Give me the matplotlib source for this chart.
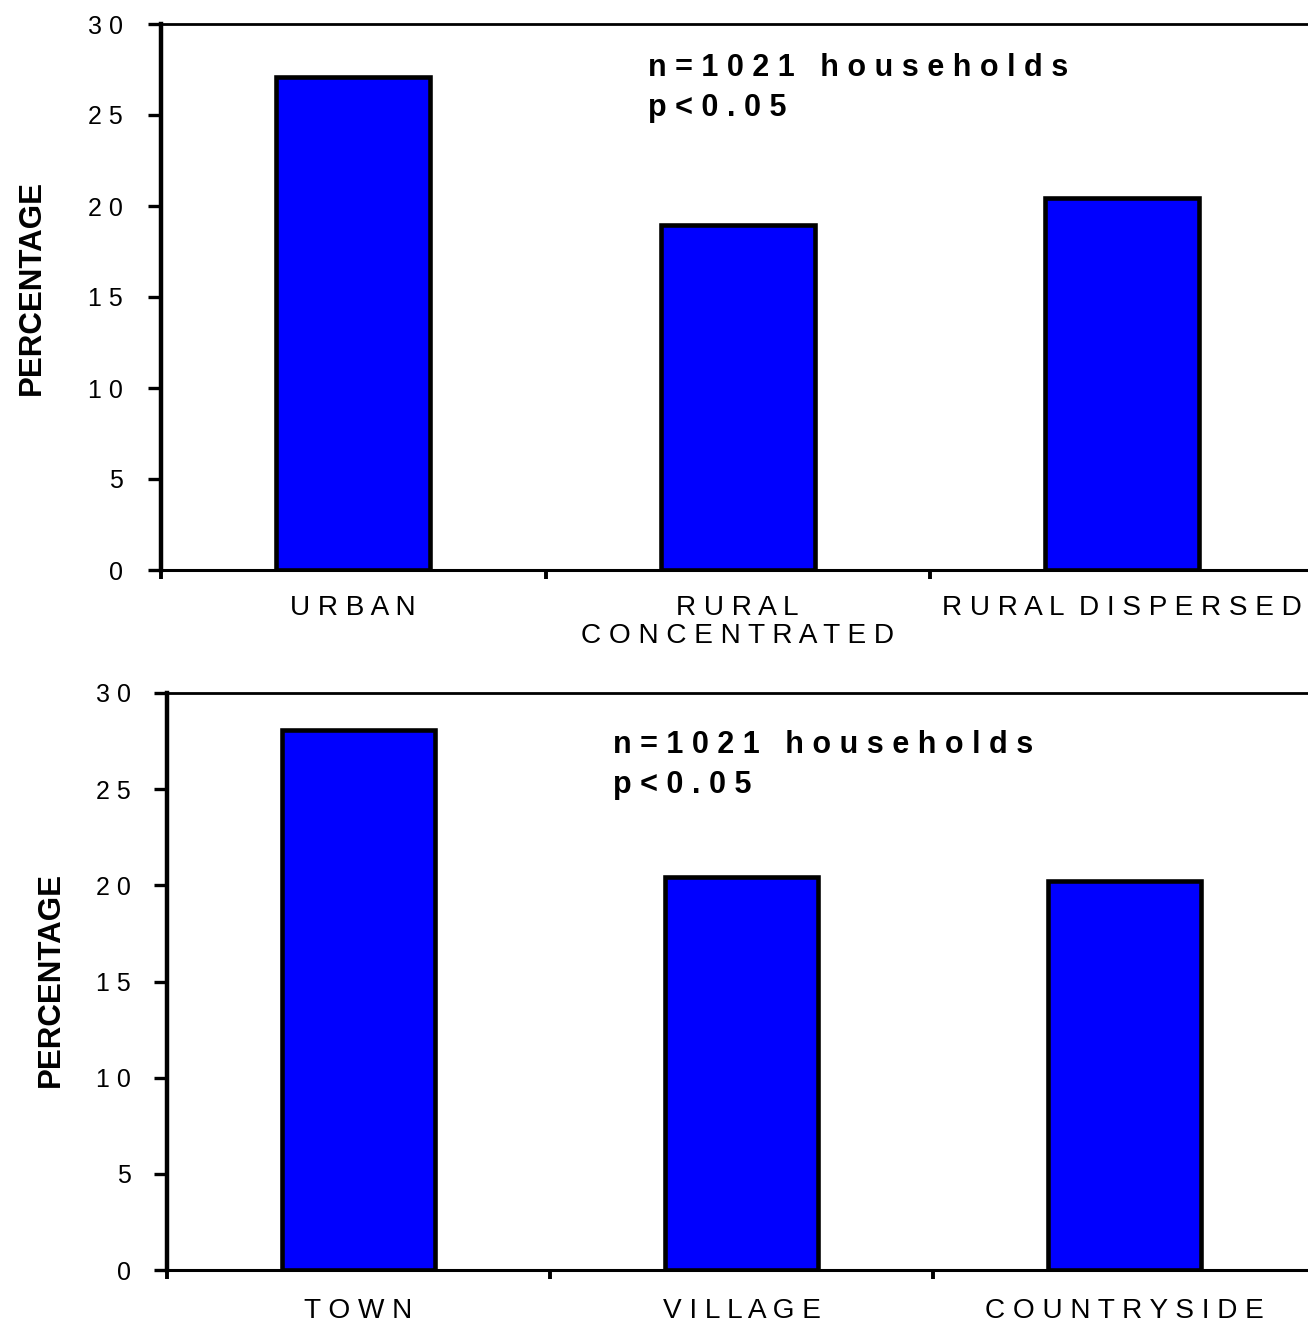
import matplotlib

matplotlib.use("Agg")

import matplotlib.pyplot as plt

plt.rcParams["font.family"] = ["Liberation Sans", "DejaVu Sans"]

top_categories = ["U R B A N", "R U R A L\nC O N C E N T R A T E D", "R U R A L  D I S P E R S E D"]
top_values = [27.1, 18.95, 20.45]

bottom_categories = ["T O W N", "V I L L A G E", "C O U N T R Y S I D E"]
bottom_values = [28.1, 20.45, 20.25]

y_ticks = [0, 5, 10, 15, 20, 25, 30]
y_tick_labels = ["0", "5", "1 0", "1 5", "2 0", "2 5", "3 0"]

note_line1 = "n = 1 0 2 1   h o u s e h o l d s"
note_line2 = "p < 0 . 0 5"


def draw_panel(ax, categories, values, note_xy, label_xy, ytick_pad, xlabel_pad):
    positions = range(len(categories))
    ax.bar(positions, values, width=0.4, color="#0000FF", edgecolor="black",
           linewidth=3.3, zorder=3)
    ax.set_xlim(-0.5, len(categories) - 0.5)
    ax.set_ylim(0, 30)

    ax.set_yticks(y_ticks)
    ax.set_yticklabels(y_tick_labels, fontsize=18)
    ax.tick_params(axis="y", direction="out", length=9.5, width=2.4, pad=ytick_pad)

    ax.set_xticks([p - 0.5 for p in range(len(categories) + 1)])
    ax.set_xticklabels([])
    ax.set_xticks(list(positions), minor=True)
    ax.set_xticklabels(categories, minor=True, fontsize=20.2, linespacing=1.1)
    ax.tick_params(axis="x", which="major", direction="out", length=6.5, width=2.8)
    ax.tick_params(axis="x", which="minor", length=0, pad=xlabel_pad)

    ax.spines["right"].set_visible(False)
    ax.spines["left"].set_linewidth(3.2)
    ax.spines["bottom"].set_linewidth(2.2)
    ax.spines["top"].set_linewidth(2.0)

    x0, y1, y2 = note_xy
    ax.text(x0, y1, note_line1, fontsize=22, fontweight="bold", va="baseline", ha="left")
    ax.text(x0, y2, note_line2, fontsize=22, fontweight="bold", va="baseline", ha="left")

    ax.text(label_xy[0], label_xy[1], "PERCENTAGE", transform=ax.transAxes, rotation=90,
            fontsize=22.5, fontweight="bold", ha="center", va="center")


fig = plt.figure(figsize=(13.08, 13.26), dpi=100)

ax_top = fig.add_axes([161 / 1308, 1 - 570 / 1326, 1153.5 / 1308, 546 / 1326])
draw_panel(ax_top, top_categories, top_values, (0.767, 27.14, 24.95),
           (-0.112, 0.518), 18, 18)

ax_bottom = fig.add_axes([167 / 1308, 1 - 1270 / 1326, 1149 / 1308, 577 / 1326])
draw_panel(ax_bottom, bottom_categories, bottom_values, (0.664, 26.88, 24.8),
           (-0.101, 0.503), 16.5, 20)

fig.savefig("out.png", dpi=100)
plt.close(fig)
